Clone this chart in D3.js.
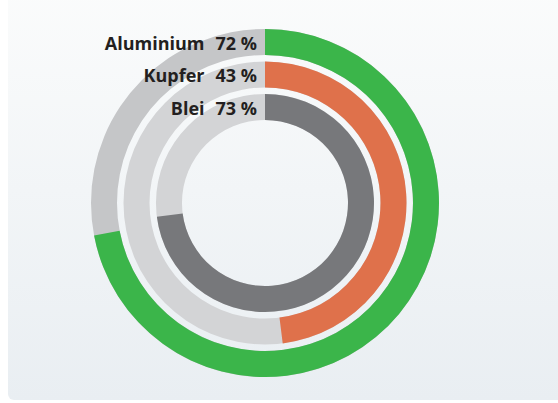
<!DOCTYPE html>
<html>
<head>
<meta charset="utf-8">
<script src="https://cdn.jsdelivr.net/npm/d3@7"></script>
<style>
  html, body { margin: 0; padding: 0; background: #ffffff; }
  svg { display: block; }
  .label { font-family: "Open Sans", sans-serif; font-weight: 700; font-size: 18px; fill: #231f20; }
</style>
</head>
<body>
<svg id="chart"></svg>
<script>
// metals, outer ring first
const metals = ["Aluminium", "Kupfer", "Blei"];
// percentage printed in the labels
const labelPercent = [72, 43, 73];
// share of the ring that is actually filled in the picture (Kupfer arc is drawn longer than its label)
const arcPercent = [72, 48, 73];

const fillColors = ["#3bb54a", "#df714b", "#77787b"];
const trackColors = ["#c5c6c8", "#d3d4d6", "#d3d4d6"];

const width = 558;
const height = 403;
const cx = 265;
const cy = 203;
const innerRadius = 83;
const outerRadius = 174;

const svg = d3.select("#chart")
    .attr("width", width)
    .attr("height", height);

function drawPanel() {
    const defs = svg.append("defs");
    const grad = defs.append("linearGradient")
        .attr("id", "panelgrad")
        .attr("x1", 0).attr("y1", 0)
        .attr("x2", 0).attr("y2", 1);
    grad.append("stop").attr("offset", "0%").attr("stop-color", "#fbfcfc");
    grad.append("stop").attr("offset", "100%").attr("stop-color", "#e9eef2");

    svg.append("rect")
        .attr("x", 8)
        .attr("y", -20)
        .attr("width", width + 20)
        .attr("height", 420)
        .attr("rx", 6)
        .attr("fill", "url(#panelgrad)");
}

function drawRings() {
    // ring radius: innermost metal gets the smallest band
    const rscale = d3.scaleBand()
        .domain(metals.slice().reverse())
        .range([innerRadius, outerRadius])
        .paddingInner(0.2)
        .paddingOuter(0);

    const ascale = d3.scaleLinear()
        .domain([0, 100])
        .range([0, 2 * Math.PI]);

    const rows = metals.map((m, i) => ({
        name: m,
        label: labelPercent[i],
        value: arcPercent[i],
        fill: fillColors[i],
        track: trackColors[i]
    }));

    const arc = d3.arc()
        .innerRadius(d => rscale(d.name))
        .outerRadius(d => rscale(d.name) + rscale.bandwidth());

    const g = svg.append("g")
        .attr("transform", `translate(${[cx, cy]})`);

    // grey tracks (full circle)
    g.selectAll("path.track")
        .data(rows)
        .join("path")
        .attr("class", "track")
        .attr("fill", d => d.track)
        .attr("d", d => arc({...d, startAngle: 0, endAngle: 2 * Math.PI}));

    // coloured value arcs, clockwise from 12 o'clock
    g.selectAll("path.value")
        .data(rows)
        .join("path")
        .attr("class", "value")
        .attr("fill", d => d.fill)
        .attr("d", d => arc({...d, startAngle: 0, endAngle: ascale(d.value)}));

    // labels sit left of the 12 o'clock line on each ring
    const labels = g.selectAll("g.lbl")
        .data(rows)
        .join("g")
        .attr("class", "lbl")
        .attr("transform", d => `translate(${[-8, -(rscale(d.name) + rscale.bandwidth() / 2)]})`);

    labels.append("text")
        .attr("class", "label")
        .attr("text-anchor", "end")
        .attr("dy", "0.42em")
        .text(d => `${d.label} %`)
        .each(function(d) { d.vw = this.getComputedTextLength(); });

    labels.append("text")
        .attr("class", "label")
        .attr("text-anchor", "end")
        .attr("dy", "0.42em")
        .attr("x", d => -d.vw - 11)
        .text(d => d.name);
}

drawPanel();
drawRings();
</script>
</body>
</html>
